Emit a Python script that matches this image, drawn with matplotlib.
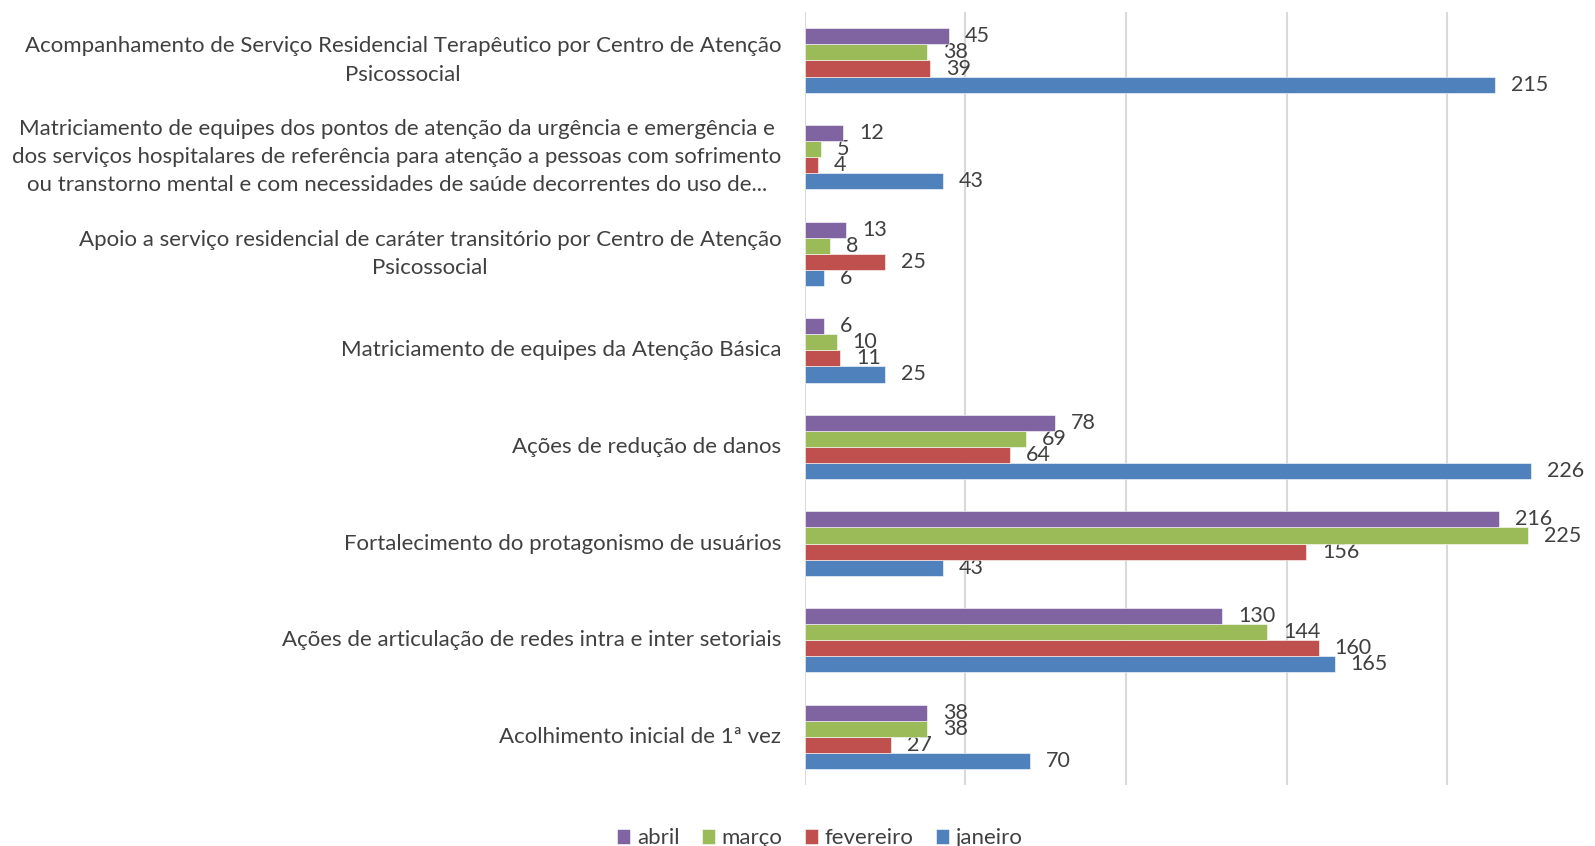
import numpy as np
import matplotlib.pyplot as plt

# categorias de baixo para cima (ordem do Excel)
categorias = [
    'Acolhimento inicial de 1ª vez',
    'Ações de articulação de redes intra e inter setoriais',
    'Fortalecimento do protagonismo de usuários',
    'Ações de redução de danos',
    'Matriciamento de equipes da Atenção Básica',
    'Apoio a serviço residencial de caráter transitório por Centro de Atenção\nPsicossocial',
    'Matriciamento de equipes dos pontos de atenção da urgência e emergência e\n'
    'dos serviços hospitalares de referência para atenção a pessoas com sofrimento\n'
    'ou transtorno mental e com necessidades de saúde decorrentes do uso de...',
    'Acompanhamento de Serviço Residencial Terapêutico por Centro de Atenção\nPsicossocial',
]

janeiro = [70, 165, 43, 226, 25, 6, 43, 215]
fevereiro = [27, 160, 156, 64, 11, 25, 4, 39]
marco = [38, 144, 225, 69, 10, 8, 5, 38]
abril = [38, 130, 216, 78, 6, 13, 12, 45]

series = [('janeiro', janeiro, '#4F81BD'),
          ('fevereiro', fevereiro, '#C0504D'),
          ('março', marco, '#9BBB59'),
          ('abril', abril, '#8064A2')]

plt.rcParams['font.family'] = ['Lato', 'DejaVu Sans']
cor_texto = '#404040'
fs = 16

fig = plt.figure(figsize=(15.95, 8.46), dpi=100)
ax = fig.add_axes([0.5045, 0.072, 0.4955, 0.9136])

y = np.arange(len(categorias))
h = 0.1667
barras = {}
for i, (nome, vals, cor) in enumerate(series):
    pos = y + (i - 1.5) * h
    barras[nome] = ax.barh(pos, vals, height=h, color=cor, edgecolor='white',
                           linewidth=0.4, label=nome, zorder=3)
    for p, v in zip(pos, vals):
        ax.annotate(str(v), (v, p), xytext=(11.5, 0), textcoords='offset points',
                    va='center', ha='left', fontsize=15.5, color=cor_texto)

ax.set_xlim(0, 246)
ax.set_ylim(-0.5, len(categorias) - 0.5)
ax.set_xticks([0, 50, 100, 150, 200])
ax.set_xticklabels([])
ax.tick_params(axis='x', length=0)
ax.grid(axis='x', color='#D9D9D9', linewidth=1.5, zorder=0)
ax.set_yticks(y)
ax.set_yticklabels(categorias, fontsize=fs, color=cor_texto, multialignment='center',
                   linespacing=1.52)
for t in ax.get_yticklabels():
    t.set_va('center')
ax.tick_params(axis='y', length=0, pad=16.8)
for s in ['top', 'right', 'bottom', 'left']:
    ax.spines[s].set_visible(False)

ordem = ['abril', 'março', 'fevereiro', 'janeiro']
leg = fig.legend([barras[n] for n in ordem], ordem, loc='center',
                 bbox_to_anchor=(0.514, 0.009), ncol=4, frameon=False,
                 fontsize=fs, handlelength=0.6, handleheight=0.6,
                 handletextpad=0.3, columnspacing=1.0)
for t in leg.get_texts():
    t.set_color(cor_texto)

plt.savefig('out.png', dpi=100)
